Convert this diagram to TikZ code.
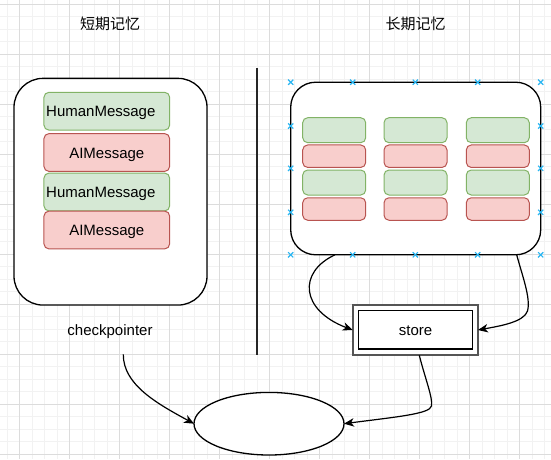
\documentclass[tikz,border=0pt]{standalone}
\usepackage{fontspec}
\setmainfont{Liberation Sans}
\newfontfamily\cjk{Noto Sans CJK SC}
\usetikzlibrary{arrows.meta,shapes.geometric}
\definecolor{gfill}{HTML}{D5E8D4}
\definecolor{gline}{HTML}{82B366}
\definecolor{rfill}{HTML}{F8CECC}
\definecolor{rline}{HTML}{B85450}
\definecolor{minorgrid}{HTML}{F2F2F2}
\definecolor{majorgrid}{HTML}{DCDCDC}
\definecolor{mkblue}{HTML}{29B6F2}
\definecolor{storegrey}{HTML}{555555}
\begin{document}
\begin{tikzpicture}[x=1pt,y=-1pt,
  container/.style={draw=black, line width=1.3pt, fill=white, inner sep=0pt, outer sep=0pt},
  msgbase/.style={line width=1pt, rounded corners=5pt, inner sep=0pt, outer sep=0pt, font=\fontsize{15}{18}\selectfont, text height=14pt, text depth=3pt},
  msgG/.style={msgbase, draw=gline, fill=gfill},
  msgR/.style={msgbase, draw=rline, fill=rfill},
  bigmsg/.style={minimum width=125.7pt, minimum height=37.8pt},
  smallG/.style={msgG, minimum width=63pt, minimum height=25pt},
  smallR/.style={msgR, minimum width=63pt, minimum height=22.5pt},
  title/.style={font=\cjk\fontsize{15}{18}\selectfont, inner sep=0pt},
  label/.style={font=\fontsize{15}{18}\selectfont, inner sep=0pt, text height=14pt, text depth=3pt},
  conn/.style={line width=1.2pt, -{Stealth[length=10pt,width=8.5pt,inset=3pt]}},
  mk/.style={draw=mkblue, line width=1.2pt}
]
\useasboundingbox (0,0) rectangle (551,459);
\fill[white] (0,0) rectangle (551,459);
% grid
\foreach \x in {7,19.5,...,551} \draw[minorgrid, line width=1pt] (\x,0) -- (\x,459);
\foreach \y in {4.3,16.8,...,459} \draw[minorgrid, line width=1pt] (0,\y) -- (551,\y);
\foreach \x in {19.5,69.5,...,551} \draw[majorgrid, line width=1pt] (\x,0) -- (\x,459);
\foreach \y in {4.3,54.3,...,459} \draw[majorgrid, line width=1pt] (0,\y) -- (551,\y);

% titles
\node[title] (tshort) at (110,23.5) {短期记忆};
\node[title] (tlong) at (415.5,23.5) {长期记忆};

% left container
\node[container, rounded corners=29pt, minimum width=193pt, minimum height=226.7pt] (left) at (110.5,191.7) {};
\node[msgG, bigmsg] (h1) at (106.8,111.2) {\hspace*{-12pt}HumanMessage};
\node[msgR, bigmsg] (a1) at (106.8,152.5) {AIMessage};
\node[msgG, bigmsg] (h2) at (106.8,192) {\hspace*{-12pt}HumanMessage};
\node[msgR, bigmsg] (a2) at (106.8,230) {AIMessage};

% divider
\coordinate (dtop) at (257,68);
\coordinate (dbot) at (257,355);
\draw[line width=1.3pt, black!85] (dtop) -- (dbot);

% right container
\node[container, rounded corners=25pt, minimum width=250pt, minimum height=172.6pt] (right) at (415.7,168.5) {};
\foreach \cx [count=\c] in {334.2,415.5,497.8} {
  \node[smallG] (g1\c) at (\cx,130.2) {};
  \node[smallR] (r1\c) at (\cx,156.2) {};
  \node[smallG] (g2\c) at (\cx,182.5) {};
  \node[smallR] (r2\c) at (\cx,209) {};
}

% blue connection markers
\foreach \mx/\my in {290.7/82.2,352.7/82.2,415.3/82.2,477.7/82.2,540.7/82.2,
                     290.7/254.8,352.7/254.8,415.3/254.8,477.7/254.8,540.7/254.8,
                     290.7/126,290.7/168.3,290.7/212.3,540.7/126,540.7/168.3,540.7/212.3} {
  \draw[mk] (\mx-2.6,\my-2.6) -- (\mx+2.6,\my+2.6);
  \draw[mk] (\mx-2.6,\my+2.6) -- (\mx+2.6,\my-2.6);
}

% store (double border)
\node[draw=storegrey, line width=2.2pt, fill=white, minimum width=125.3pt, minimum height=50.6pt, inner sep=0pt, outer sep=0pt] (storeout) at (415.3,330) {};
\node[draw=black, line width=1.4pt, fill=white, minimum width=113.6pt, minimum height=38.7pt, inner sep=0pt, outer sep=0pt, label] (store) at (415.5,329.7) {store};

% checkpointer label
\node[label] (ckpt) at (110,330) {checkpointer};
\coordinate (ckstart) at (123.3,354.3);

% ellipse
\node[draw=black, line width=1.3pt, fill=white, ellipse, minimum width=150pt, minimum height=62.6pt, inner sep=0pt, outer sep=0pt] (ell) at (269,423.7) {};

% connectors
\coordinate (rb1) at (335,254.8);
\coordinate (rb2) at (516.7,254.8);
\draw[conn] (rb1) .. controls (298,272) and (300,310) .. (storeout.west);
\draw[conn] (rb2) .. controls (522,275) and (531,298) .. (527.5,311) .. controls (524,322) and (500,326) .. (storeout.east);
\draw[conn] ([xshift=4pt]storeout.south) .. controls (425,378) and (433,398) .. (431.5,406) .. controls (430,414) and (395,417) .. (ell.east);
\draw[conn] (ckstart) .. controls (123,385) and (158,404) .. (ell.west);
\end{tikzpicture}
\end{document}
